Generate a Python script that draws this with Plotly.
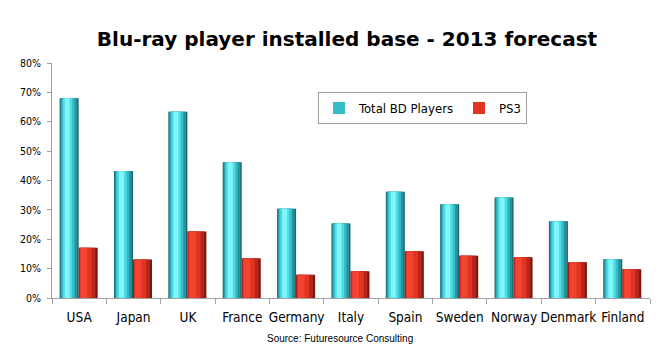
import plotly.graph_objects as go

countries = ["USA", "Japan", "UK", "France", "Germany", "Italy", "Spain",
             "Sweden", "Norway", "Denmark", "Finland"]
total_bd = [0.68, 0.432, 0.634, 0.462, 0.304, 0.254, 0.362, 0.319, 0.342, 0.261, 0.132]
ps3 = [0.171, 0.131, 0.226, 0.135, 0.079, 0.091, 0.159, 0.144, 0.139, 0.122, 0.098]
y_ticks = [0, 0.1, 0.2, 0.3, 0.4, 0.5, 0.6, 0.7, 0.8]

FONT = "DejaVu Sans Condensed, DejaVu Sans, sans-serif"

fig = go.Figure()

# cylinder-like shading built from overlaid bar layers of the same data
teal_layers = [  # (offset, width, color)
    (-0.36, 0.35, "#1d6670"),
    (-0.345, 0.31, "#27939d"),
    (-0.325, 0.24, "#36bdc8"),
    (-0.30, 0.17, "#4edce5"),
    (-0.265, 0.09, "#80f6f9"),
]
red_layers = [
    (-0.01, 0.35, "#7a1810"),
    (0.0, 0.30, "#b5261a"),
    (0.01, 0.22, "#e23424"),
    (0.025, 0.12, "#f4432f"),
]
LEGEND_LAYER = 2

for i, (off, w, col) in enumerate(teal_layers):
    fig.add_trace(go.Bar(
        x=countries, y=total_bd, name="Total BD Players",
        marker=dict(color=col, line=dict(width=0)),
        offset=off, width=w, showlegend=(i == LEGEND_LAYER), legendgroup="bd",
    ))
for i, (off, w, col) in enumerate(red_layers):
    fig.add_trace(go.Bar(
        x=countries, y=ps3, name="PS3",
        marker=dict(color=col, line=dict(width=0)),
        offset=off, width=w, showlegend=(i == LEGEND_LAYER), legendgroup="ps3",
    ))

fig.update_layout(
    width=670, height=350,
    margin=dict(l=52, r=20, t=63, b=52),
    paper_bgcolor="white", plot_bgcolor="white",
    barmode="overlay",
    title=dict(
        text="<b>Blu-ray player installed base - 2013 forecast</b>",
        font=dict(family="DejaVu Sans, sans-serif", size=20, color="black"),
        x=347 / 670, xanchor="center", xref="container",
        y=1 - 39 / 350, yanchor="middle", yref="container",
    ),
    legend=dict(
        orientation="h", x=(318 - 52) / 598, xanchor="left",
        y=(297.5 - 92) / 234.5, yanchor="top",
        bordercolor="#a0a0a0", borderwidth=1, bgcolor="white",
        font=dict(family=FONT, size=13, color="black"),
        itemwidth=30, traceorder="normal",
    ),
    showlegend=True,
    font=dict(family=FONT, color="black"),
)

fig.update_yaxes(
    range=[0, 0.8], tickvals=y_ticks, tickformat=".0%",
    showgrid=False, zeroline=False,
    showline=True, linecolor="#a0a0a0", linewidth=1,
    ticks="outside", ticklen=4, tickcolor="#a0a0a0",
    tickfont=dict(family=FONT, size=10.5, color="black"),
    ticklabelstandoff=4,
)
fig.update_xaxes(
    showgrid=False, showline=True, linecolor="#a0a0a0", linewidth=1,
    ticks="outside", ticklen=5, tickcolor="#a0a0a0", tickson="boundaries",
    tickfont=dict(family=FONT, size=13.5, color="black"), tickangle=0,
    ticklabelstandoff=7,
    range=[-0.5, len(countries) - 0.5],
)

fig.add_annotation(
    text="Source: Futuresource Consulting", xref="paper", yref="paper",
    x=(339.5 - 52) / 598, y=-(338 - 297.5) / (297.5 - 63), xanchor="center", yanchor="middle",
    showarrow=False, font=dict(family="Liberation Sans, Arial, sans-serif", size=10, color="black"),
)

fig.write_html("out.html")
